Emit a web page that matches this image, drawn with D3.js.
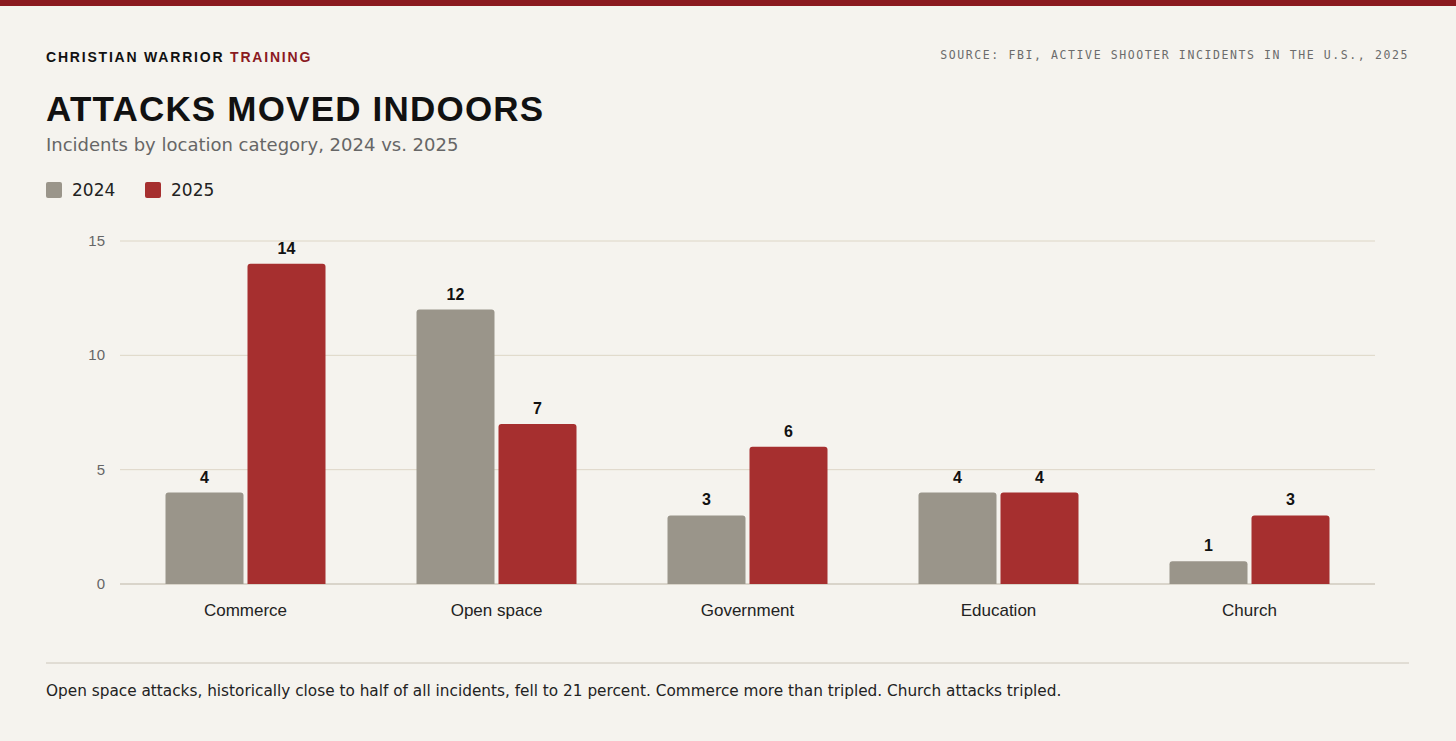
<!DOCTYPE html>
<html><head><meta charset="utf-8">
<script src="https://cdn.jsdelivr.net/npm/d3@7"></script>
<style>body{margin:0;background:#f5f3ee;}svg{display:block;font-family:"Liberation Sans",Arial,sans-serif;}</style>
</head><body>
<script>
var categories = ["Commerce", "Open space", "Government", "Education", "Church"];
var years = ["2024", "2025"];
var values2024 = [4, 12, 3, 4, 1];
var values2025 = [14, 7, 6, 4, 3];
var yTicks = [0, 5, 10, 15];

var W = 1456, H = 741;
var colors = {"2024": "#9a958a", "2025": "#a62f2f"};

var svg = d3.select("body").append("svg").attr("width", W).attr("height", H);
svg.append("rect").attr("width", W).attr("height", H).attr("fill", "#f5f3ee");
svg.append("rect").attr("width", W).attr("height", 6).attr("fill", "#8b1a1f");

var brand = svg.append("text").attr("x", 46).attr("y", 62)
    .attr("font-size", 14).attr("font-weight", "bold").attr("letter-spacing", 1.8).attr("fill", "#111");
brand.append("tspan").text("CHRISTIAN WARRIOR ");
brand.append("tspan").attr("fill", "#8b1a1f").text("TRAINING");

svg.append("text").attr("x", 1409).attr("y", 59).attr("text-anchor", "end")
    .attr("font-family", "DejaVu Sans Mono, monospace").attr("font-size", 11.5)
    .attr("letter-spacing", 1.6).attr("fill", "#6b6b6b")
    .text("SOURCE: FBI, ACTIVE SHOOTER INCIDENTS IN THE U.S., 2025");

svg.append("text").attr("x", 46).attr("y", 121).attr("font-size", 35).attr("font-weight", "bold")
    .attr("letter-spacing", 1.2).attr("fill", "#111").text("ATTACKS MOVED INDOORS");
svg.append("text").attr("x", 46).attr("y", 151).attr("font-size", 19).attr("fill", "#666")
    .attr("font-family", "DejaVu Sans, sans-serif").attr("font-size", 18)
    .text("Incidents by location category, 2024 vs. 2025");

var legX = [46, 145];
years.forEach(function (yr, i) {
    svg.append("rect").attr("x", legX[i]).attr("y", 182).attr("width", 16).attr("height", 16)
        .attr("rx", 2).attr("fill", colors[yr]);
    svg.append("text").attr("x", legX[i] + 26).attr("y", 196).attr("font-size", 17)
        .attr("font-family", "DejaVu Sans, sans-serif").attr("fill", "#222").text(yr);
});

var x0 = d3.scaleBand().domain(categories).range([120, 1375]).paddingInner(0).paddingOuter(0);
var y = d3.scaleLinear().domain([0, 15]).range([584, 241]);
var barW = 78, gap = 4;

var grid = svg.append("g");
yTicks.forEach(function (t) {
    grid.append("line").attr("x1", 120).attr("x2", 1375).attr("y1", y(t)).attr("y2", y(t))
        .attr("stroke", t === 0 ? "#bdb5a6" : "#ddd6c6").attr("stroke-width", 1);
    grid.append("text").attr("x", 105).attr("y", y(t) + 5).attr("text-anchor", "end")
        .attr("font-size", 15).attr("fill", "#666").text(t);
});

var rows = categories.map(function (c, i) { return {cat: c, v: [values2024[i], values2025[i]]}; });
rows.forEach(function (r) {
    var cx = x0(r.cat) + x0.bandwidth() / 2;
    r.v.forEach(function (v, j) {
        var bx = j === 0 ? cx - gap / 2 - barW : cx + gap / 2;
        svg.append("path")
            .attr("d", roundTop(bx, y(v), barW, y(0) - y(v), 3))
            .attr("fill", colors[years[j]]);
        svg.append("text").attr("x", bx + barW / 2).attr("y", y(v) - 10).attr("text-anchor", "middle")
            .attr("font-size", 16).attr("font-weight", "bold").attr("fill", "#111").text(v);
    });
    svg.append("text").attr("x", cx).attr("y", 616).attr("text-anchor", "middle")
        .attr("font-size", 17).attr("fill", "#222").text(r.cat);
});

function roundTop(x, yy, w, h, r) {
    return "M" + x + "," + (yy + h) + "V" + (yy + r) + "Q" + x + "," + yy + " " + (x + r) + "," + yy +
        "H" + (x + w - r) + "Q" + (x + w) + "," + yy + " " + (x + w) + "," + (yy + r) + "V" + (yy + h) + "Z";
}

svg.append("line").attr("x1", 46).attr("x2", 1409).attr("y1", 663).attr("y2", 663)
    .attr("stroke", "#ccc6ba");
svg.append("text").attr("x", 46).attr("y", 696).attr("font-size", 16)
    .attr("font-family", "DejaVu Sans, sans-serif").attr("font-size", 15.3).attr("fill", "#222")
    .text("Open space attacks, historically close to half of all incidents, fell to 21 percent. Commerce more than tripled. Church attacks tripled.");
</script>
</body></html>
